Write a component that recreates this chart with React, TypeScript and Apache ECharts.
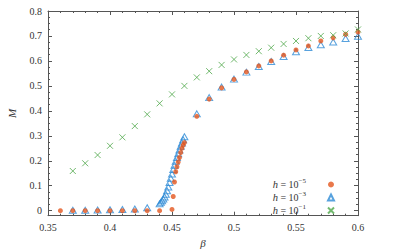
import React, { useEffect, useRef } from "react";
import * as echarts from "echarts";

// h = 1e-5 (red dots)
const betaRed = [0.36, 0.37, 0.38, 0.39, 0.40, 0.41, 0.42, 0.43, 0.44, 0.45,
  0.451, 0.452, 0.453, 0.454, 0.455, 0.456, 0.457, 0.458, 0.459, 0.46,
  0.47, 0.48, 0.49, 0.50, 0.51, 0.52, 0.53, 0.54, 0.55, 0.56, 0.57, 0.58, 0.59, 0.60];
const mRed = [0, 0, 0, 0, 0, 0, 0, 0, 0, 0.005,
  0.057, 0.115, 0.156, 0.176, 0.195, 0.213, 0.233, 0.25, 0.263, 0.273,
  0.378, 0.447, 0.492, 0.526, 0.556, 0.58, 0.60, 0.623, 0.644, 0.66, 0.68, 0.693, 0.707, 0.716];

// h = 1e-3 (blue triangles)
const betaBlue = [0.37, 0.38, 0.39, 0.40, 0.41, 0.42, 0.43,
  0.440, 0.441, 0.442, 0.443, 0.444, 0.445, 0.446, 0.447, 0.448, 0.449, 0.450,
  0.451, 0.452, 0.453, 0.454, 0.455, 0.456, 0.457, 0.458, 0.459, 0.460,
  0.47, 0.48, 0.49, 0.50, 0.51, 0.52, 0.53, 0.54, 0.55, 0.56, 0.57, 0.58, 0.59, 0.60];
const mBlue = [0.002, 0.002, 0.003, 0.004, 0.005, 0.007, 0.012,
  0.028, 0.034, 0.040, 0.047, 0.055, 0.066, 0.080, 0.095, 0.113, 0.130, 0.147,
  0.165, 0.182, 0.198, 0.213, 0.228, 0.243, 0.258, 0.271, 0.284, 0.296,
  0.388, 0.453, 0.495, 0.527, 0.555, 0.578, 0.598, 0.618, 0.637, 0.654, 0.665, 0.676, 0.69, 0.699];

// h = 1e-1 (green crosses)
const betaGreen = [0.37, 0.38, 0.39, 0.40, 0.41, 0.42, 0.43, 0.44, 0.45, 0.46, 0.47, 0.48,
  0.49, 0.50, 0.51, 0.52, 0.53, 0.54, 0.55, 0.56, 0.57, 0.58, 0.59, 0.60];
const mGreen = [0.159, 0.19, 0.223, 0.26, 0.294, 0.339, 0.386, 0.43, 0.466, 0.5, 0.534, 0.559,
  0.584, 0.606, 0.624, 0.639, 0.653, 0.668, 0.68, 0.691, 0.70, 0.703, 0.71, 0.726];

const seriesNames = ["h5", "h3", "h1"];
const legendExponents = ["\u22125", "\u22123", "\u22121"];

const RED = "#E4561E";
const BLUE = "#2E8BD6";
const GREEN = "#4FA84A";
const AXIS = "#555555";
const TEXT = "#333333";
const FONT = "'Liberation Serif', 'DejaVu Serif', serif";

const zip = (xs: number[], ys: number[]) => xs.map((x, i) => [x, ys[i]]);
const fmt = (v: number) => String(+v.toFixed(2));

export default function App() {
  const ref = useRef<HTMLDivElement>(null);
  useEffect(() => {
    if (!ref.current) return;
    const chart = echarts.init(ref.current, undefined, { renderer: "svg" });
    const mainGrid = { left: 48, right: 41, top: 11, bottom: 35.3, containLabel: false, outerBoundsMode: "none" };
    const labelGrid = { left: 48, right: 41, top: 11, bottom: 40.3, containLabel: false, outerBoundsMode: "none" };
    const frameLine = { show: true, onZero: false, lineStyle: { color: AXIS, width: 1 } };
    const noLine = { show: false, onZero: false };
    const tickIn = { show: true, inside: true, length: 4, lineStyle: { color: AXIS } };
    const minorIn = (n: number) => ({ show: true, splitNumber: n, length: 2, lineStyle: { color: AXIS } });
    chart.setOption({
      animation: false,
      grid: [mainGrid, labelGrid],
      xAxis: [
        {
          type: "value", gridIndex: 0, position: "bottom", min: 0.35, max: 0.6, interval: 0.05,
          axisLine: frameLine, axisTick: tickIn, minorTick: minorIn(5), splitLine: { show: false },
          axisLabel: { formatter: fmt, color: TEXT, fontFamily: FONT, fontSize: 10, margin: 7 },
          name: "\u03b2", nameLocation: "middle", nameGap: 21,
          nameTextStyle: { fontFamily: FONT, fontStyle: "italic", fontSize: 11, color: TEXT },
        },
        {
          type: "value", gridIndex: 0, position: "top", min: 0.35, max: 0.6, interval: 0.05,
          axisLine: frameLine, axisTick: tickIn, minorTick: minorIn(5), splitLine: { show: false },
          axisLabel: { show: false },
        },
        {
          type: "value", gridIndex: 1, min: 0.35, max: 0.6, show: false, axisLine: noLine,
        },
      ],
      yAxis: [
        {
          type: "value", gridIndex: 0, position: "left", min: -0.02, max: 0.8,
          axisLine: frameLine, axisTick: { show: false }, axisLabel: { show: false },
          splitLine: { show: false },
          name: "M", nameLocation: "middle", nameGap: 31,
          nameTextStyle: { fontFamily: FONT, fontStyle: "italic", fontSize: 11, color: TEXT },
        },
        {
          type: "value", gridIndex: 0, position: "right", min: -0.02, max: 0.8,
          axisLine: frameLine, axisTick: { show: false }, axisLabel: { show: false },
          splitLine: { show: false },
        },
        {
          type: "value", gridIndex: 1, position: "left", min: 0, max: 0.8, interval: 0.1,
          axisLine: noLine, axisTick: tickIn, minorTick: minorIn(4), splitLine: { show: false },
          axisLabel: { formatter: fmt, color: TEXT, fontFamily: FONT, fontSize: 10, margin: 6 },
        },
        {
          type: "value", gridIndex: 1, position: "right", min: 0, max: 0.8, interval: 0.1,
          axisLine: noLine, axisTick: tickIn, minorTick: minorIn(4), splitLine: { show: false },
          axisLabel: { show: false },
        },
      ],
      legend: {
        orient: "vertical", right: 64, top: 177, align: "right", itemGap: 0,
        itemWidth: 6, itemHeight: 6, padding: 0,
        data: seriesNames,
        formatter: (name: string) => {
          const i = seriesNames.indexOf(name);
          return "{i|h}{n| = 10}{s|" + legendExponents[i] + "}";
        },
        textStyle: {
          fontFamily: FONT, fontSize: 10, color: TEXT, padding: [0, 17, 0, 0],
          rich: {
            i: { fontFamily: FONT, fontStyle: "italic", fontSize: 10.5, color: TEXT },
            n: { fontFamily: FONT, fontSize: 10, color: TEXT },
            s: { fontFamily: FONT, fontSize: 7, color: TEXT, padding: [0, 0, 8, 0] },
          },
        },
      },
      series: [
        {
          name: "h5", type: "scatter", xAxisIndex: 0, yAxisIndex: 0,
          data: zip(betaRed, mRed), symbol: "circle", symbolSize: 5,
          itemStyle: { color: RED }, z: 3,
        },
        {
          name: "h3", type: "scatter", xAxisIndex: 0, yAxisIndex: 0,
          data: zip(betaBlue, mBlue), symbol: "triangle", symbolSize: [7, 6],
          itemStyle: { color: "rgba(0,0,0,0)", borderColor: BLUE, borderWidth: 1 }, z: 2,
        },
        {
          name: "h1", type: "scatter", xAxisIndex: 0, yAxisIndex: 0,
          data: zip(betaGreen, mGreen), symbol: "path://M0,0L10,10M10,0L0,10", symbolSize: 6,
          itemStyle: { color: "rgba(0,0,0,0)", borderColor: GREEN, borderWidth: 1 }, z: 4,
        },
      ],
    });
    return () => chart.dispose();
  }, []);
  return <div ref={ref} style={{ width: 399, height: 251, position: "absolute", left: 0, top: 0 }} />;
}
